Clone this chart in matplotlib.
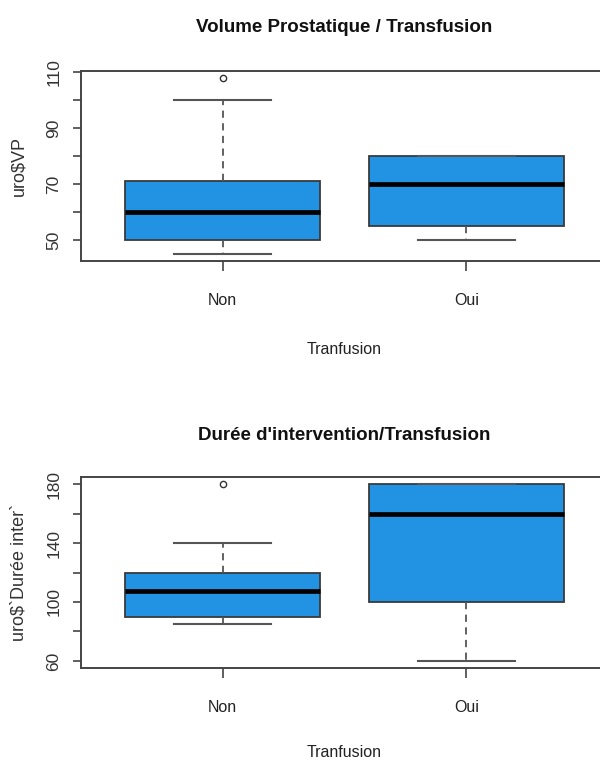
import matplotlib
matplotlib.use("Agg")
import matplotlib.pyplot as plt

# ---- data ----
groups = ["Non", "Oui"]
xlabel = "Tranfusion"

vp_titles = "Volume Prostatique / Transfusion"
vp_ylabel = "uro$VP"
vp_q1 = [50, 55]
vp_med = [60, 70]
vp_q3 = [71, 80]
vp_lo = [45, 50]
vp_hi = [100, 80]
vp_out = [[108], []]
vp_ticks = [50, 60, 70, 80, 90, 100, 110]
vp_labels = ["50", "", "70", "", "90", "", "110"]

du_title = "Durée d'intervention/Transfusion"
du_ylabel = "uro$`Durée inter`"
du_q1 = [90, 100]
du_med = [107.5, 160]
du_q3 = [120, 180]
du_lo = [85, 60]
du_hi = [140, 180]
du_out = [[180], []]
du_ticks = [60, 80, 100, 120, 140, 160, 180]
du_labels = ["60", "", "100", "", "140", "", "180"]

BOX = "#2293E3"
EDGE = "#3a3a3a"
FONT = ["Liberation Sans", "DejaVu Sans"]

fig = plt.figure(figsize=(6.0, 7.61), dpi=100)
W, H = 600.0, 761.0

def draw(ax_rect, title, ylabel, q1, med, q3, lo, hi, out, ticks, labels,
         title_y, xlab_y):
    ax = fig.add_axes(ax_rect)
    stats = []
    for i in range(len(groups)):
        stats.append(dict(q1=q1[i], med=med[i], q3=q3[i], whislo=lo[i],
                          whishi=hi[i], fliers=out[i], label=groups[i]))
    ax.bxp(stats, positions=[1, 2], widths=0.8, patch_artist=True,
           boxprops=dict(facecolor=BOX, edgecolor=EDGE, linewidth=1.3),
           medianprops=dict(color="black", linewidth=3.4, solid_capstyle="butt"),
           whiskerprops=dict(color="#555555", linewidth=1.3, linestyle=(0, (4, 3))),
           capprops=dict(color="#555555", linewidth=1.5),
           capwidths=0.4,
           flierprops=dict(marker="o", markersize=4.5, markerfacecolor="none",
                           markeredgecolor="#333333", markeredgewidth=1.0))
    allv = lo + hi + q3 + q1 + [v for o in out for v in o]
    data_min, data_max = min(allv), max(allv)
    r = data_max - data_min
    ax.set_ylim(data_min - 0.04 * r, data_max + 0.04 * r)
    ax.set_xlim(0.42, 2.58)
    ax.set_yticks(ticks)
    ax.set_yticklabels(labels, rotation=90, va="center", family=FONT,
                       fontsize=12.5, color="#333333")
    ax.set_xticks([1, 2])
    ax.set_xticklabels(groups, family=FONT, fontsize=11.5, color="#222222")
    ax.tick_params(axis="y", length=6, width=1.2, color="#444444", pad=8)
    ax.tick_params(axis="x", length=7, width=1.2, color="#444444", pad=16)
    for s in ax.spines.values():
        s.set_color("#444444")
        s.set_linewidth(1.4)
    fig.text(344 / W, 1 - title_y / H, title, ha="center", va="baseline",
             family=FONT, fontweight="bold", fontsize=13.5, color="#111111")
    fig.text(344 / W, 1 - xlab_y / H, xlabel, ha="center", va="baseline",
             family=FONT, fontsize=11.5, color="#222222")
    fig.text(19 / W, ax_rect[1] + ax_rect[3] / 2, ylabel, rotation=90,
             ha="center", va="center", family=FONT, fontsize=13, color="#333333")
    return ax

draw([81 / W, 1 - 261 / H, 527 / W, 190 / H], vp_titles, vp_ylabel,
     vp_q1, vp_med, vp_q3, vp_lo, vp_hi, vp_out, vp_ticks, vp_labels,
     32, 354)
draw([81 / W, 1 - 668 / H, 527 / W, 191 / H], du_title, du_ylabel,
     du_q1, du_med, du_q3, du_lo, du_hi, du_out, du_ticks, du_labels,
     440, 757)

fig.savefig("out.png", dpi=100)
